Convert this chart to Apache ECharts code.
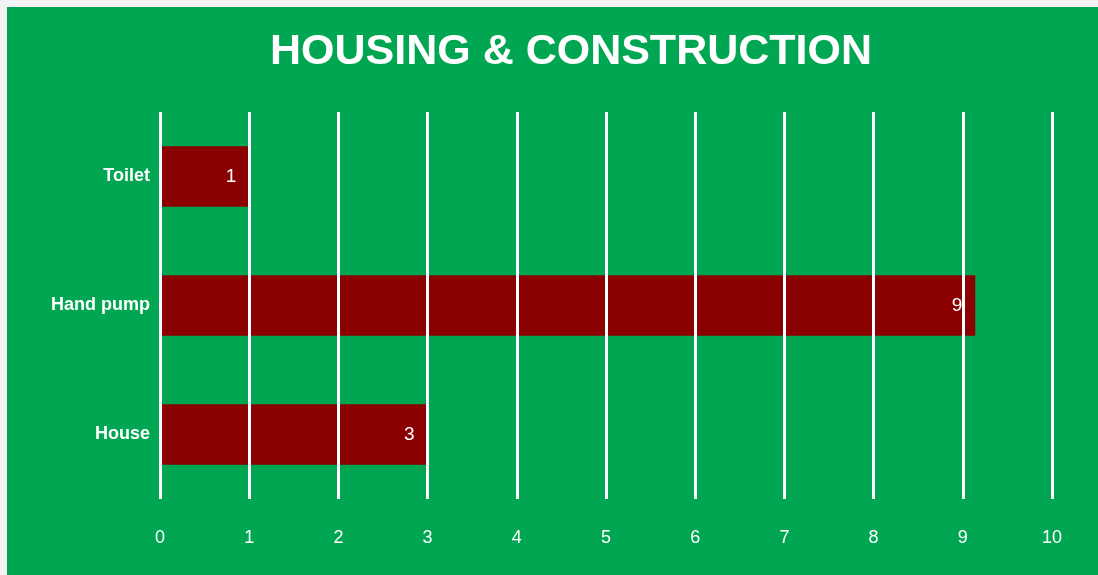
<!DOCTYPE html>
<html>
<head>
<meta charset="utf-8">
<script src="https://cdn.jsdelivr.net/npm/echarts@6/dist/echarts.min.js"></script>
<style>
  html, body { margin: 0; padding: 0; background: #f3f3f3; }
  #chart { position: absolute; left: 7px; top: 7px; width: 1091px; height: 568px; }
</style>
</head>
<body>
<div id="chart"></div>
<script>
// data
const categories = ['House', 'Hand pump', 'Toilet']
const values = [3, 9.14, 1]
const valueLabels = ['3', '9', '1']
const xTicks = [0, 10, 1] // min, max, interval

const font = '"Liberation Sans Narrow", "Arial Narrow", "Liberation Sans", sans-serif'

const chart = echarts.init(document.getElementById('chart'))
chart.setOption({
  backgroundColor: '#00a651',
  title: {
    text: 'HOUSING & CONSTRUCTION',
    left: 258,
    top: 19,
    textStyle: {
      color: '#fff',
      fontFamily: font,
      fontWeight: 'bold',
      fontSize: 43
    }
  },
  grid: {
    left: 153,
    right: 46,
    top: 105,
    bottom: 76
  },
  xAxis: {
    type: 'value',
    min: xTicks[0],
    max: xTicks[1],
    interval: xTicks[2],
    z: 5,
    axisLine: { show: false },
    axisTick: { show: false },
    splitLine: { lineStyle: { color: '#fff', width: 3 } },
    axisLabel: {
      color: '#fff',
      fontFamily: font,
      fontSize: 18,
      margin: 30
    }
  },
  yAxis: {
    type: 'category',
    data: categories,
    axisLine: { show: false },
    axisTick: { show: false },
    axisLabel: {
      color: '#fff',
      fontFamily: font,
      fontWeight: 'bold',
      fontSize: 18,
      margin: 10
    }
  },
  series: [{
    type: 'bar',
    data: values,
    barWidth: '47%',
    itemStyle: { color: '#8b0000' },
    label: {
      show: true,
      position: 'insideRight',
      distance: 13,
      color: '#fff',
      fontFamily: font,
      fontSize: 19,
      formatter: p => valueLabels[p.dataIndex]
    },
    animation: false
  }]
})
</script>
</body>
</html>
